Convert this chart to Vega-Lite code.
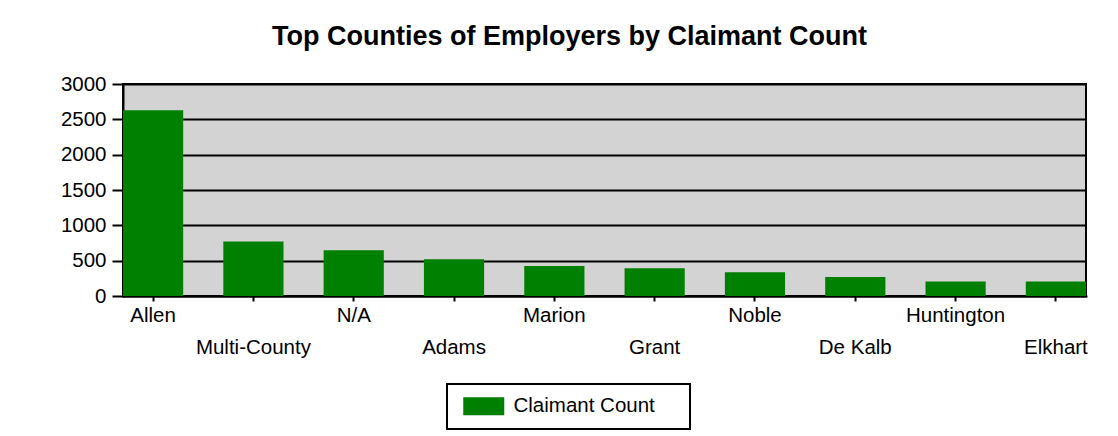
{
  "$schema": "https://vega.github.io/schema/vega-lite/v6.json",
  "width": 963,
  "height": 212,
  "autosize": {"type": "none"},
  "padding": {"left": 123, "top": 84, "right": 32, "bottom": 140},
  "background": "white",
  "title": {
    "text": "Top Counties of Employers by Claimant Count",
    "font": "Liberation Sans",
    "fontSize": 27,
    "fontWeight": "bold",
    "color": "black",
    "anchor": "middle",
    "baseline": "alphabetic",
    "offset": 38,
    "dx": -35,
    "dy": 36
  },
  "data": {
    "values": [
      {"county": "Allen", "count": 2630},
      {"county": "Multi-County", "count": 772},
      {"county": "N/A", "count": 646},
      {"county": "Adams", "count": 519},
      {"county": "Marion", "count": 426},
      {"county": "Grant", "count": 393},
      {"county": "Noble", "count": 336},
      {"county": "De Kalb", "count": 270},
      {"county": "Huntington", "count": 206},
      {"county": "Elkhart", "count": 204}
    ]
  },
  "mark": {"type": "bar"},
  "encoding": {
    "x": {
      "field": "county",
      "type": "nominal",
      "sort": null,
      "scale": {"paddingInner": 0.4, "paddingOuter": 0},
      "axis": {
        "title": null,
        "labelAngle": 0,
        "labelFont": "Liberation Sans",
        "labelFontSize": 20.5,
        "labelColor": "black",
        "labelBaseline": "top",
        "labelPadding": {
          "condition": {"test": "indexof(['Multi-County','Adams','Grant','De Kalb','Elkhart'], datum.value) >= 0", "value": 36},
          "value": 4
        },
        "tickSize": 5,
        "tickWidth": 2,
        "tickColor": "black",
        "domainColor": "black",
        "domainWidth": 2,
        "labelOverlap": false,
        "labelBound": false,
        "labelFlush": false
      }
    },
    "y": {
      "field": "count",
      "type": "quantitative",
      "scale": {"domain": [0, 3000], "nice": false},
      "axis": {
        "title": null,
        "values": [0, 500, 1000, 1500, 2000, 2500, 3000],
        "format": "d",
        "labelFont": "Liberation Sans",
        "labelFontSize": 20.5,
        "labelColor": "black",
        "labelPadding": 6,
        "tickSize": 11,
        "tickWidth": 2,
        "tickColor": "black",
        "domainColor": "black",
        "domainWidth": 2,
        "grid": true,
        "gridColor": "black",
        "gridWidth": 2,
        "gridOpacity": 1
      }
    },
    "color": {
      "datum": "Claimant Count",
      "type": "nominal",
      "scale": {"range": ["#008000"]},
      "legend": {
        "title": null,
        "orient": "none",
        "legendX": 324,
        "legendY": 300,
        "direction": "vertical",
        "fillColor": "white",
        "strokeColor": "black",
        "padding": 12,
        "cornerRadius": 0,
        "symbolType": "M-0.667,-1H3.889V1H-0.667Z M23.1,0L23.1,0.01",
        "symbolSize": 324,
        "symbolStrokeWidth": 0,
        "labelOffset": 34,
        "labelFont": "Liberation Sans",
        "labelFontSize": 20.5,
        "labelColor": "black",
        "labelLimit": 400,
        "encode": {"legend": {"update": {"strokeWidth": {"value": 2}}}}
      }
    }
  },
  "config": {
    "view": {"fill": "#D3D3D3", "stroke": "black", "strokeWidth": 2},
    "axis": {"domainCap": "square"}
  }
}
